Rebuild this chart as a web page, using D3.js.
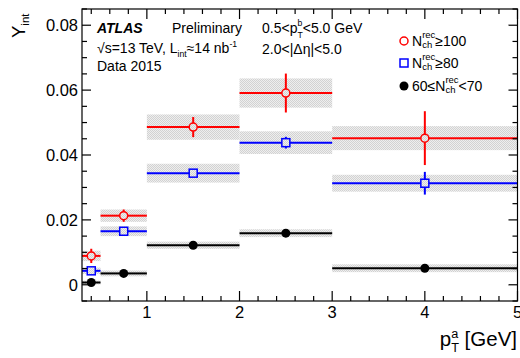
<!DOCTYPE html>
<html><head><meta charset="utf-8">
<script src="https://cdn.jsdelivr.net/npm/d3@7"></script>
<style>
html,body{margin:0;padding:0;background:#fff;}
text{font-family:"Liberation Sans",Arial,Helvetica,sans-serif;fill:#000;white-space:pre;}
</style></head>
<body><svg id="c" width="520" height="358"></svg>
<script>
// ---- data ----
const binLo = [0.3, 0.5, 1, 2, 3];
const binHi = [0.5, 1, 2, 3, 5];
const xCenters = [0.4, 0.75, 1.5, 2.5, 4];
const red = [0.0089, 0.0213, 0.0486, 0.0591, 0.0452];
const redStat = [0.0022, 0.0019, 0.0031, 0.0060, 0.0083];
const redSys = [0.0016, 0.0019, 0.0039, 0.0045, 0.0037];
const blue = [0.0043, 0.0165, 0.0344, 0.0438, 0.0313];
const blueStat = [0.0007, 0.0010, 0.0010, 0.0018, 0.0035];
const blueSys = [0.0010, 0.0015, 0.0029, 0.0035, 0.0026];
const black = [0.0007, 0.0035, 0.0122, 0.0159, 0.0051];
const blackStat = [0.0003, 0.0003, 0.0003, 0.0004, 0.0005];
const blackSys = [0.0006, 0.0009, 0.0011, 0.0012, 0.0012];
const xMajorTicks = [1, 2, 3, 4, 5];
const yMajorTicks = [0, 0.02, 0.04, 0.06, 0.08];
const yTickLabels = ["0", "0.02", "0.04", "0.06", "0.08"];

const svg = d3.select("#c");
const L = 82, R = 517.5, T = 9, B = 301;
const x = d3.scaleLinear().domain([0.3, 5]).range([L, R]);
const y = d3.scaleLinear().domain([-0.005, 0.085]).range([B, T]);

// hatched grey pattern
const defs = svg.append("defs");
const pat = defs.append("pattern").attr("id", "hatch").attr("width", 2).attr("height", 2).attr("patternUnits", "userSpaceOnUse");
pat.append("rect").attr("width", 2).attr("height", 2).attr("fill", "#eeeeee");
pat.append("rect").attr("width", 1).attr("height", 1).attr("fill", "#d2d2d2");
pat.append("rect").attr("x", 1).attr("y", 1).attr("width", 1).attr("height", 1).attr("fill", "#d2d2d2");

// rich text helper
function rich(g, px, py, segs, fs, opts = {}) {
  const grp = g.append("g");
  let cx = 0, pendingW = null, stackX = 0;
  segs.forEach(s => {
    const size = fs * (s.k || 1);
    const el = grp.append("text").attr("x", pendingW !== null ? stackX : cx).attr("y", s.dy || 0)
      .style("font-size", size + "px").text(s.t);
    if (s.weight) el.style("font-weight", s.weight);
    if (s.italic) el.style("font-style", "italic");
    const w = el.node().getComputedTextLength();
    if (s.stack) { stackX = cx; pendingW = w; }
    else if (pendingW !== null) { cx = stackX + Math.max(w, pendingW); pendingW = null; }
    else cx += w;
  });
  if (opts.rotate) {
    grp.attr("transform", `translate(${px},${py}) rotate(-90)`);
  } else {
    if (opts.anchor === "end") px -= cx;
    grp.attr("transform", `translate(${px},${py})`);
  }
  return grp;
}

const series = [
  {v: red, st: redStat, sy: redSys, color: "#ff0000", m: "circle"},
  {v: blue, st: blueStat, sy: blueSys, color: "#0000ff", m: "square"},
  {v: black, st: blackStat, sy: blackSys, color: "#000000", m: "dot"}
];

// bands
series.forEach(s => {
  svg.append("g").selectAll("rect").data(s.v).join("rect")
    .attr("x", (d, i) => x(binLo[i]))
    .attr("width", (d, i) => x(binHi[i]) - x(binLo[i]))
    .attr("y", (d, i) => y(d + s.sy[i]))
    .attr("height", (d, i) => y(d - s.sy[i]) - y(d + s.sy[i]))
    .attr("fill", "url(#hatch)");
});

// error bars + markers
const mr = 4;
series.forEach(s => {
  const g = svg.append("g").attr("stroke", s.color).attr("stroke-width", 2).attr("fill", "none");
  const gap = s.m === "dot" ? 0 : mr;
  s.v.forEach((d, i) => {
    const cx = x(xCenters[i]), cy = y(d);
    g.append("line").attr("x1", x(binLo[i])).attr("x2", cx - gap).attr("y1", cy).attr("y2", cy);
    g.append("line").attr("x1", cx + gap).attr("x2", x(binHi[i])).attr("y1", cy).attr("y2", cy);
    const yt = y(d + s.st[i]), yb = y(d - s.st[i]);
    if (yt < cy - gap) g.append("line").attr("x1", cx).attr("x2", cx).attr("y1", yt).attr("y2", cy - gap);
    if (yb > cy + gap) g.append("line").attr("x1", cx).attr("x2", cx).attr("y1", cy + gap).attr("y2", yb);
  });
  const mg = svg.append("g");
  s.v.forEach((d, i) => drawMarker(mg, s.m, x(xCenters[i]), y(d), s.color));
});

function drawMarker(g, m, cx, cy, color) {
  if (m === "circle") g.append("circle").attr("cx", cx).attr("cy", cy).attr("r", mr).attr("fill", "none").attr("stroke", color).attr("stroke-width", 1.5);
  else if (m === "square") g.append("rect").attr("x", cx - mr).attr("y", cy - mr).attr("width", 2 * mr).attr("height", 2 * mr).attr("fill", "none").attr("stroke", color).attr("stroke-width", 1.5);
  else g.append("circle").attr("cx", cx).attr("cy", cy).attr("r", 4.5).attr("fill", color);
}

// frame + ticks (ROOT style, ticks inside on all sides)
const axG = svg.append("g").attr("stroke", "#000").attr("stroke-width", 1.2);
axG.append("rect").attr("x", L).attr("y", T).attr("width", R - L).attr("height", B - T).attr("fill", "none");
const xMinor = d3.range(0.4, 5.0001, 0.2).map(v => +v.toFixed(2)).filter(v => !xMajorTicks.includes(v));
const yMinor = d3.range(-0.005, 0.0851, 0.005).map(v => +v.toFixed(3)).filter(v => !yMajorTicks.includes(v));
xMajorTicks.forEach(v => {
  axG.append("line").attr("x1", x(v)).attr("x2", x(v)).attr("y1", B).attr("y2", B - 10);
  axG.append("line").attr("x1", x(v)).attr("x2", x(v)).attr("y1", T).attr("y2", T + 10);
});
xMinor.forEach(v => {
  axG.append("line").attr("x1", x(v)).attr("x2", x(v)).attr("y1", B).attr("y2", B - 5);
  axG.append("line").attr("x1", x(v)).attr("x2", x(v)).attr("y1", T).attr("y2", T + 5);
});
yMajorTicks.forEach(v => {
  axG.append("line").attr("x1", L).attr("x2", L + 9).attr("y1", y(v)).attr("y2", y(v));
  axG.append("line").attr("x1", R).attr("x2", R - 9).attr("y1", y(v)).attr("y2", y(v));
});
yMinor.forEach(v => {
  axG.append("line").attr("x1", L).attr("x2", L + 5).attr("y1", y(v)).attr("y2", y(v));
  axG.append("line").attr("x1", R).attr("x2", R - 5).attr("y1", y(v)).attr("y2", y(v));
});

// tick labels
const tfs = 16.5;
svg.append("g").selectAll("text").data(xMajorTicks).join("text")
  .attr("x", d => x(d)).attr("y", B + 17).attr("text-anchor", "middle").style("font-size", tfs + "px").text(d => d);
svg.append("g").selectAll("text").data(yMajorTicks).join("text")
  .attr("x", L - 4).attr("y", d => y(d) + 6).attr("text-anchor", "end").style("font-size", tfs + "px")
  .text((d, i) => yTickLabels[i]);

// axis titles
rich(svg, 517, 346, [{t: "p"}, {t: "a", k: 0.62, dy: -8.5, stack: true}, {t: "T", k: 0.62, dy: 5.5}, {t: "\u00a0[GeV]"}], 20.5, {anchor: "end"});
rich(svg, 25, 38, [{t: "Y"}, {t: "int", k: 0.62, dy: 4}], 18.5, {rotate: true});

// annotations
const afs = 14;
rich(svg, 97, 32.5, [{t: "ATLAS", weight: "bold", italic: true}], afs);
rich(svg, 172, 32.5, [{t: "Preliminary"}], afs);
rich(svg, 97, 53, [{t: "√s=13 TeV, L"}, {t: "int", k: 0.62, dy: 4}, {t: "≈14 nb"}, {t: "-1", k: 0.62, dy: -6}], afs);
rich(svg, 97, 71, [{t: "Data 2015"}], afs);
rich(svg, 262, 32.5, [{t: "0.5<p"}, {t: "b", k: 0.62, dy: -7, stack: true}, {t: "T", k: 0.62, dy: 5}, {t: "<5.0 GeV"}], afs);
rich(svg, 262, 54, [{t: "2.0<|Δη|<5.0"}], afs);

// legend
const legY = [41, 63, 86];
const legLabels = [
  [{t: "N"}, {t: "rec", k: 0.68, dy: -8, stack: true}, {t: "ch", k: 0.68, dy: 2}, {t: "≥100"}],
  [{t: "N"}, {t: "rec", k: 0.68, dy: -8, stack: true}, {t: "ch", k: 0.68, dy: 2}, {t: "≥80"}],
  [{t: "60≤N"}, {t: "rec", k: 0.68, dy: -8, stack: true}, {t: "ch", k: 0.68, dy: 2}, {t: "<70"}]
];
series.forEach((s, i) => {
  drawMarker(svg, s.m, 404, legY[i], s.color);
  rich(svg, 412, legY[i] + 4.5, legLabels[i], afs);
});
</script></body></html>
